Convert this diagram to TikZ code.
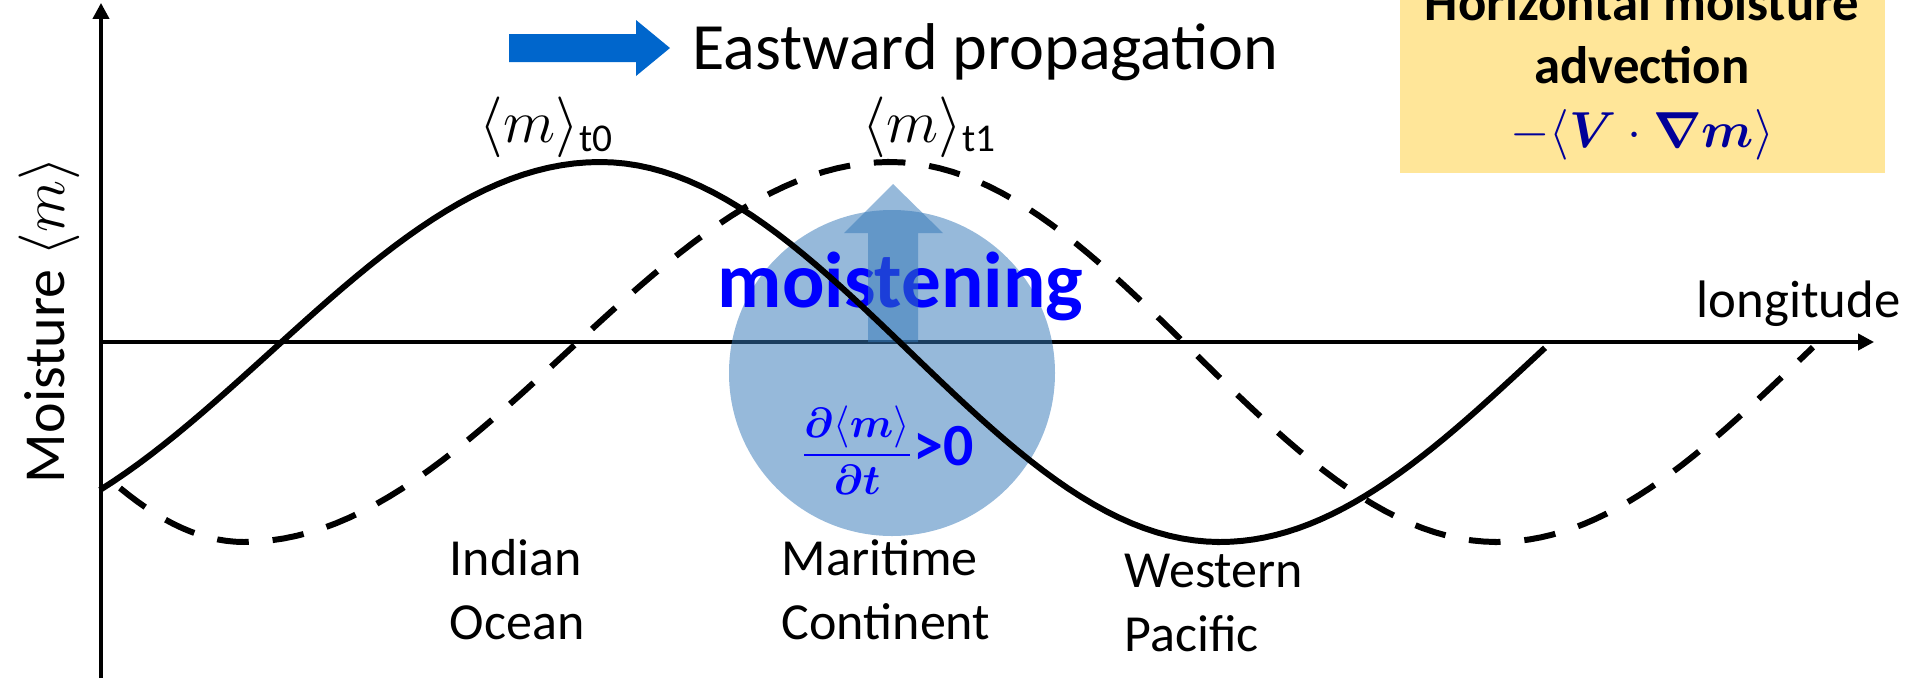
\documentclass[tikz,border=0pt]{standalone}
\usepackage{amsmath,bm}
\usepackage{fontspec}
\setmainfont{Carlito}
\usetikzlibrary{arrows.meta}
\definecolor{eastblue}{RGB}{0,102,204}
\definecolor{moistblue}{RGB}{53,120,184}
\definecolor{advyellow}{RGB}{255,230,153}
\definecolor{advnavy}{RGB}{0,0,153}
\tikzset{
  axis/.style={line width=0.9pt,-{Triangle[length=4.5pt,width=4.6pt]}},
  curve/.style={line width=1.7pt},
  shifted/.style={curve,dash pattern=on 9pt off 6.8pt},
  region/.style={font=\fontsize{14.8}{18.5}\selectfont,anchor=base west,inner sep=0pt},
  advline/.style={font=\fontsize{15}{18}\selectfont\bfseries,anchor=base,inner sep=0pt},
  moisture/.style={fill=moistblue,fill opacity=0.52},
}
\begin{document}
\begin{tikzpicture}[x=0.01cm,y=-0.01cm]
            \useasboundingbox (0,0) rectangle (1911,678);
            \clip (0,0) rectangle (1911,678);

            \coordinate (O) at (101,342);
            \coordinate (Ytop) at (101,3);
            \coordinate (Ybot) at (101,678);
            \coordinate (Xend) at (1874,342);

            % axes
            \draw[axis] (Ybot)--(Ytop);
            \draw[axis] (O)--(Xend);
            \node[rotate=90,font=\fontsize{16.5}{20}\selectfont,inner sep=0pt] (ylbl) at (49,320) {Moisture $\langle m\rangle$};
            \node[anchor=base west,inner sep=0pt,font=\fontsize{15}{18}\selectfont] (lon) at (1696,317) {longitude};

            % advection box
            \fill[advyellow] (1400,-30) rectangle (1885,173);
            \node[advline] (adv1) at (1642,20) {Horizontal moisture};
            \node[advline] (adv2) at (1642,83) {advection};
            \node[advline,text=advnavy,font=\fontsize{14.5}{18}\selectfont] (adv3) at (1642,147) {$-\langle\bm{V}\cdot\bm{\nabla m}\rangle$};

            % propagation arrow
            \fill[eastblue] (509,34)--(636,34)--(636,20)--(670,48)--(636,76)--(636,62)--(509,62)--cycle;
            \node[anchor=base west,inner sep=0pt,font=\fontsize{18.8}{22}\selectfont] (east) at (692,69) {Eastward propagation};

            % moistening region
            \fill[moisture] (892,373) circle (163);
            \node[anchor=base west,inner sep=0pt,text=blue,font=\fontsize{22.5}{26}\selectfont\bfseries] (moist) at (717,307) {moistening};
            \fill[moisture] (868,342)--(868,233)--(844,233)--(893,184)--(943,233)--(918,233)--(918,342)--cycle;
            \node[text=blue,inner sep=0pt,font=\fontsize{12}{14}\selectfont] (dmdt) at (887,450)
                {$\displaystyle\frac{\bm{\partial}\langle\bm{m}\rangle}{\bm{\partial t}}$\fontsize{17}{19}\selectfont\textbf{>0}};

            % moisture curves
            \draw[curve] plot[domain=100:600,samples=40] (\x,{352-190*cos(180*((\x-600)/659))})
                -- plot[domain=600:1220,samples=50] (\x,{352-190*cos(180*((\x-600)/620))})
                -- plot[domain=1220:1545,samples=30] (\x,{352+190*cos(180*((\x-1220)/641))});
            \draw[shifted] plot[domain=120:244,samples=15] (\x,{352+190*cos(180*((\x-244)/504))})
                -- plot[domain=244:890,samples=50] (\x,{352+190*cos(180*((\x-244)/646))})
                -- plot[domain=890:1497,samples=50] (\x,{352-190*cos(180*((\x-890)/607))})
                -- plot[domain=1497:1813,samples=30] (\x,{352+190*cos(180*((\x-1497)/622))});
            \node[anchor=base west,inner sep=0pt,font=\fontsize{16}{19}\selectfont] (mt0) at (479,142) {$\langle m\rangle_{\text{t0}}$};
            \node[anchor=base west,inner sep=0pt,font=\fontsize{16}{19}\selectfont] (mt1) at (862,142) {$\langle m\rangle_{\text{t1}}$};

            % regions
            \node[region] (io) at (449,575) {Indian};
            \node[region] (io2) at (449,639) {Ocean};
            \node[region] (mc) at (781,575) {Maritime};
            \node[region] (mc2) at (781,639) {Continent};
            \node[region] (wp) at (1124,587) {Western};
            \node[region] (wp2) at (1124,651) {Pacific};
        \end{tikzpicture}
\end{document}
